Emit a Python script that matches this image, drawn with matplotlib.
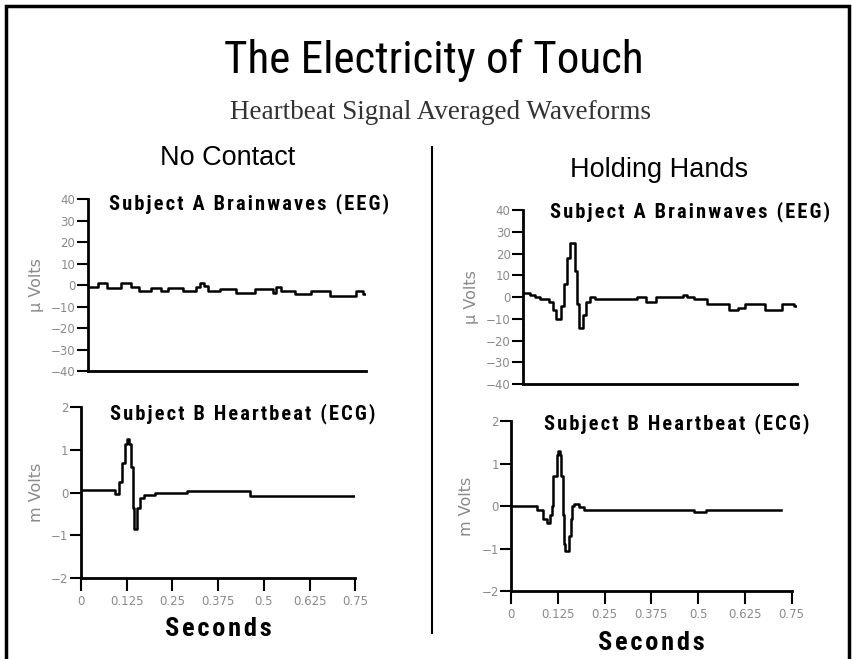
import matplotlib.pyplot as plt
from matplotlib import font_manager
from matplotlib.lines import Line2D
from matplotlib.patches import Rectangle

# Data (step waveforms)
eeg_nc_t = [0.0, 0.027, 0.051, 0.090, 0.117, 0.139, 0.171, 0.198, 0.216, 0.256,
            0.292, 0.301, 0.314, 0.323, 0.355, 0.400, 0.449, 0.498, 0.507, 0.521,
            0.557, 0.602, 0.651, 0.723, 0.741, 0.75]
eeg_nc_v = [-1, 1, -1.5, 1, -1, -3, -1.5, -3, -1.5, -3,
            -1, 1, -0.5, -3, -2, -3.5, -2, -3.5, -1, -3,
            -4, -3, -5, -3, -4, -4]

eeg_hh_t = [0.0, 0.019, 0.033, 0.047, 0.070, 0.082, 0.089, 0.104, 0.112, 0.119,
            0.129, 0.143, 0.147, 0.152, 0.163, 0.172, 0.182, 0.196, 0.312, 0.335,
            0.363, 0.438, 0.447, 0.466, 0.503, 0.564, 0.587, 0.606, 0.661, 0.708,
            0.741, 0.75]
eeg_hh_v = [2, 1, 0, -1, -2, -6, -10, -4, 6, 18,
            25, 12, -3, -14, -8, -2, 0, -1, 0, -2,
            0, 1, 0, -1, -3, -6, -5, -3, -6, -3,
            -4, -4]

ecg_nc_t = [0.0, 0.093, 0.105, 0.111, 0.120, 0.127, 0.131, 0.137, 0.141, 0.145,
            0.152, 0.161, 0.172, 0.203, 0.289, 0.461, 0.75]
ecg_nc_v = [0.05, -0.03, 0.25, 0.7, 1.15, 1.25, 1.15, 0.6, -0.35, -0.85,
            -0.35, -0.12, -0.05, 0.0, 0.03, -0.08, -0.08]

ecg_hh_t = [0.0, 0.070, 0.086, 0.095, 0.104, 0.108, 0.113, 0.122, 0.126, 0.131,
            0.134, 0.139, 0.142, 0.145, 0.154, 0.159, 0.164, 0.169, 0.181, 0.194,
            0.211, 0.488, 0.520, 0.723]
ecg_hh_v = [0.0, -0.1, -0.3, -0.4, -0.2, 0.0, 0.7, 1.2, 1.3, 1.2,
            0.7, -0.2, -0.9, -1.05, -0.7, -0.3, 0.0, 0.05, -0.03, -0.1,
            -0.08, -0.15, -0.1, -0.1]

eeg_ticks = [-40, -30, -20, -10, 0, 10, 20, 30, 40]
ecg_ticks = [-2, -1, 0, 1, 2]
sec_ticks = [0, 0.125, 0.25, 0.375, 0.5, 0.625, 0.75]
sec_labels = ["0", "0.125", "0.25", "0.375", "0.5", "0.625", "0.75"]

# pick a condensed sans if one is around
have = {f.name for f in font_manager.fontManager.ttflist}
narrow = "DejaVu Sans"
for cand in ["Roboto Condensed", "Archivo Narrow", "PT Sans Narrow",
             "Liberation Sans Narrow", "Open Sans Condensed", "Arimo"]:
    if cand in have:
        narrow = cand
        break
NARROW = [narrow, "DejaVu Sans"]
PLAIN = ["Liberation Sans", "DejaVu Sans"]
GRAY = "#8a8a8a"


def spaced(s):
    # wide letter spacing like the original print
    return "\u200a".join(s)


fig = plt.figure(figsize=(8.52, 6.59), dpi=100)

fig.text(0.509, 0.908, "The Electricity of Touch", family=NARROW,
         fontsize=32.5, ha="center", va="center")
fig.text(0.517, 0.83, "Heartbeat Signal Averaged Waveforms", family="Liberation Serif",
         fontsize=19.5, ha="center", va="center", color="#333333")
fig.text(0.267, 0.76, "No Contact", family=PLAIN, fontsize=19.5, ha="center", va="center")
fig.text(0.774, 0.742, "Holding Hands", family=PLAIN, fontsize=19.5, ha="center", va="center")


def panel(rect, t, v, ylim, yticks, ylabel, title, tx, ty, xaxis):
    ax = fig.add_axes(rect)
    ax.plot(t, v, drawstyle="steps-post", color="black", lw=1.8)
    ax.set_xlim(0, 0.75)
    ax.set_ylim(*ylim)
    for s in ["top", "right"]:
        ax.spines[s].set_visible(False)
    for s in ["left", "bottom"]:
        ax.spines[s].set_linewidth(2)
    ax.set_yticks(yticks)
    ax.tick_params(axis="y", direction="out", length=8, width=1.5,
                   labelsize=8.5, labelcolor=GRAY, pad=1)
    if xaxis:
        ax.set_xticks(sec_ticks)
        ax.set_xticklabels(sec_labels)
        ax.tick_params(axis="x", direction="out", length=9, width=1.5,
                       labelsize=8.5, labelcolor=GRAY, pad=3)
        ax.set_xlabel(spaced("Seconds"), family=NARROW, fontsize=19,
                      fontweight="bold", labelpad=7)
    else:
        ax.set_xticks([])
    ax.set_ylabel(ylabel, color=GRAY, fontsize=11.5, labelpad=5)
    ax.text(tx, ty, spaced(title), transform=ax.transAxes, family=NARROW,
            fontsize=14.7, fontweight="bold", ha="center", va="center")
    ax.patch.set_alpha(0)
    return ax


panel([0.103, 0.437, 0.327, 0.261], eeg_nc_t, eeg_nc_v, (-40, 40), eeg_ticks,
      "\u00b5 Volts", "Subject A Brainwaves (EEG)", 0.58, 0.975, False)
panel([0.095, 0.123, 0.322, 0.259], ecg_nc_t, ecg_nc_v, (-2, 2), ecg_ticks,
      "m Volts", "Subject B Heartbeat (ECG)", 0.59, 0.965, True)
panel([0.614, 0.417, 0.322, 0.264], eeg_hh_t, eeg_hh_v, (-40, 40), eeg_ticks,
      "\u00b5 Volts", "Subject A Brainwaves (EEG)", 0.61, 0.99, False)
panel([0.600, 0.103, 0.329, 0.258], ecg_hh_t, ecg_hh_v, (-2, 2), ecg_ticks,
      "m Volts", "Subject B Heartbeat (ECG)", 0.59, 0.985, True)

# divider and page border
fig.add_artist(Line2D([0.507, 0.507], [0.777, 0.039], color="black", lw=1.5))
fig.add_artist(Rectangle((6 / 852, -0.02), 843 / 852, 1.02 - 6 / 659,
                         transform=fig.transFigure, fill=False, ec="black", lw=2.5))

fig.savefig("out.png", dpi=100)
